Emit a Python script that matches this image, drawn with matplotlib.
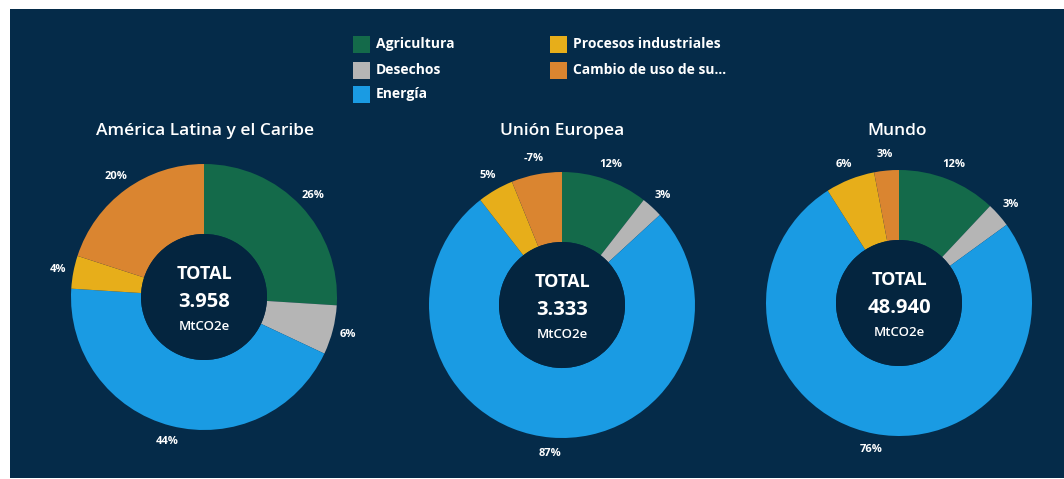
import numpy as np
import matplotlib
matplotlib.use("Agg")
import matplotlib.pyplot as plt
from matplotlib.patches import Rectangle, Circle

# --- data -------------------------------------------------------------
categories = ["Agricultura", "Desechos", "Energía",
              "Procesos industriales", "Cambio de uso de su..."]
regions = ["América Latina y el Caribe", "Unión Europea", "Mundo"]
alc_shares = [26, 6, 44, 4, 20]
ue_shares = [12, 3, 87, 5, -7]
mundo_shares = [12, 3, 76, 6, 3]
totals = ["3.958", "3.333", "48.940"]
unit = "MtCO2e"

# --- style ------------------------------------------------------------
colors = ["#146a4a", "#b5b5b5", "#1a9be3", "#e7ae1a", "#da8530"]
bg = "#052b49"
hole = "#04253f"
plt.rcParams["font.family"] = ["Open Sans", "DejaVu Sans"]

W, H = 1064, 479
fig = plt.figure(figsize=(W / 100, H / 100), dpi=100)
fig.patch.set_facecolor("white")
ax = fig.add_axes([0, 0, 1, 1])


def Y(y):
    """pixel row (top-down) -> axes y (bottom-up)"""
    return H - y


ax.add_patch(Rectangle((10, Y(478)), W - 10, 469, facecolor=bg,
                       edgecolor="none", zorder=0))

# --- legend -----------------------------------------------------------
legend_slots = [(353, 44), (353, 70), (353, 94), (550, 44), (550, 70)]
for (lx, ly), name, col in zip(legend_slots, categories, colors):
    ax.add_patch(Rectangle((lx, Y(ly) - 8.5), 17, 17, facecolor=col,
                           edgecolor="none", zorder=2))
    ax.text(lx + 23, Y(ly), name, color="white", fontsize=10,
            fontweight="bold", ha="left", va="center", zorder=3)

# --- donuts -----------------------------------------------------------
R = 133
RING = 70
centers = [(204, 297), (562, 305), (899, 303)]
title_x = [205, 562, 897]

for shares, name, total, (cx, cy), tx in zip(
        [alc_shares, ue_shares, mundo_shares], regions, totals,
        centers, title_x):
    wedges, _ = ax.pie(np.abs(shares), colors=colors, startangle=90,
                       counterclock=False, radius=R,
                       center=(cx, Y(cy)), frame=True,
                       wedgeprops=dict(width=RING, edgecolor="none"))
    for w in wedges:
        w.set_zorder(2)
    ax.add_patch(Circle((cx, Y(cy)), R - RING, facecolor=hole,
                        edgecolor="none", zorder=2))
    for w, v in zip(wedges, shares):
        mid = np.deg2rad((w.theta1 + w.theta2) / 2)
        ax.text(cx + 1.12 * R * np.cos(mid), Y(cy) + 1.12 * R * np.sin(mid),
                f"{v}%", color="white", fontsize=8, fontweight="bold",
                ha="center", va="center", zorder=3)
    ax.text(tx, Y(131), name, color="white", fontsize=12.5,
            fontweight="semibold", ha="center", va="center", zorder=3)
    ax.text(cx, Y(cy - 23), "TOTAL", color="white", fontsize=13,
            fontweight="bold", ha="center", va="center", zorder=3)
    ax.text(cx, Y(cy + 5), total, color="white", fontsize=14.5,
            fontweight="bold", ha="center", va="center", zorder=3)
    ax.text(cx, Y(cy + 30), unit, color="white", fontsize=9.5,
            fontweight="semibold", ha="center", va="center", zorder=3)

ax.set_xlim(0, W)
ax.set_ylim(0, H)
ax.set_aspect("auto")
ax.axis("off")

fig.savefig("out.png", dpi=100, facecolor=fig.get_facecolor())
